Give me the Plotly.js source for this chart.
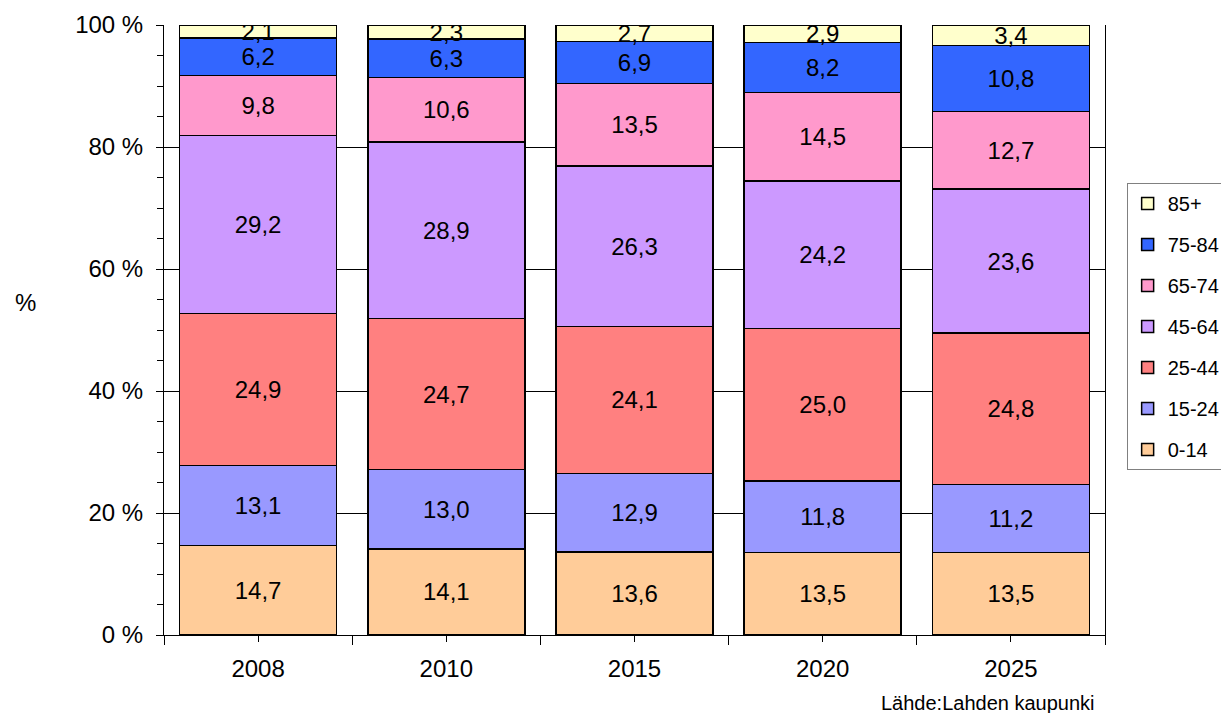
<!DOCTYPE html>
<html>
<head>
<meta charset="utf-8">
<script src="https://cdn.plot.ly/plotly-3.0.1.min.js"></script>
<style>
  body { margin: 0; background: #fff; }
  #chart { width: 1221px; height: 713px; }
</style>
</head>
<body>
<div id="chart"></div>
<script>
// years on the x axis
var years = ["2008", "2010", "2015", "2020", "2025"];

// share of population by age group (%)
var age0_14  = [14.7, 14.1, 13.6, 13.5, 13.5];
var age15_24 = [13.1, 13.0, 12.9, 11.8, 11.2];
var age25_44 = [24.9, 24.7, 24.1, 25.0, 24.8];
var age45_64 = [29.2, 28.9, 26.3, 24.2, 23.6];
var age65_74 = [9.8, 10.6, 13.5, 14.5, 12.7];
var age75_84 = [6.2, 6.3, 6.9, 8.2, 10.8];
var age85    = [2.1, 2.3, 2.7, 2.9, 3.4];

// y axis ticks
var pctTicks = [0, 20, 40, 60, 80, 100];
var pctLabels = ["0 %", "20 %", "40 %", "60 %", "80 %", "100 %"];

var groups = [
  { name: "0-14",  y: age0_14,  color: "#FFCC99" },
  { name: "15-24", y: age15_24, color: "#9999FF" },
  { name: "25-44", y: age25_44, color: "#FF8080" },
  { name: "45-64", y: age45_64, color: "#CC99FF" },
  { name: "65-74", y: age65_74, color: "#FF99CC" },
  { name: "75-84", y: age75_84, color: "#3366FF" },
  { name: "85+",   y: age85,    color: "#FFFFCC" }
];

// finnish decimal comma in the labels
function fmt(v) { return v.toFixed(1).replace(".", ","); }

var data = groups.map(function (g, i) {
  return {
    type: "bar",
    name: g.name,
    legendgroup: g.name,
    legendrank: 100 - i,   // oldest at the bottom of the legend
    x: years,
    y: g.y,
    text: g.y.map(fmt),
    textposition: "inside",
    insidetextanchor: "middle",
    constraintext: "none",
    textangle: 0,
    textfont: { family: "Liberation Sans, Arial, sans-serif", size: 24, color: "#000" },
    hoverinfo: "name+y",
    marker: { color: g.color, line: { color: "#000", width: 1.5 } }
  };
});

// invisible helper trace so the centre ticks (xaxis2) get drawn
data.push({
  type: "scatter",
  mode: "markers",
  x: years,
  y: age0_14,
  xaxis: "x2",
  yaxis: "y",
  showlegend: false,
  hoverinfo: "skip",
  marker: { opacity: 0 }
});

var layout = {
  barmode: "stack",
  barnorm: "percent",
  bargap: 0.166,
  width: 1221,
  height: 713,
  margin: { l: 164, r: 116, t: 25, b: 78, autoexpand: false },
  paper_bgcolor: "#fff",
  plot_bgcolor: "#fff",
  font: { family: "Liberation Sans, Arial, sans-serif", size: 24, color: "#000" },
  xaxis: {
    type: "category",
    showline: true,
    linecolor: "#000",
    linewidth: 1,
    ticks: "outside",
    tickson: "boundaries",
    ticklen: 9,
    tickcolor: "#000",
    ticklabelstandoff: 12,
    showgrid: false,
    zeroline: false,
    tickfont: { size: 24 }
  },
  xaxis2: {
    type: "category",
    overlaying: "x",
    matches: "x",
    anchor: "y",
    side: "bottom",
    ticks: "outside",
    ticklen: 6,
    tickcolor: "#000",
    showticklabels: false,
    showgrid: false,
    showline: false,
    zeroline: false
  },
  yaxis: {
    range: [0, 100],
    tickmode: "array",
    tickvals: pctTicks,
    ticktext: pctLabels,
    ticks: "outside",
    ticklen: 7,
    tickcolor: "#000",
    ticklabelstandoff: 8,
    showline: true,
    linecolor: "#000",
    mirror: true,
    showgrid: true,
    gridcolor: "#000",
    gridwidth: 1,
    zeroline: false,
    minor: { dtick: 5, ticks: "outside", ticklen: 6, tickcolor: "#000", showgrid: false },
    tickfont: { size: 24 }
  },
  legend: {
    x: 1.023,
    y: 0.741,
    xanchor: "left",
    yanchor: "top",
    traceorder: "grouped",
    tracegroupgap: 12,
    bordercolor: "#808080",
    borderwidth: 1,
    bgcolor: "#fff",
    font: { size: 20 }
  },
  annotations: [
    { text: "%", xref: "paper", yref: "paper", x: -0.16, y: 0.545,
      showarrow: false, font: { size: 24 } },
    { text: "Lähde:Lahden kaupunki", xref: "paper", yref: "paper",
      x: 0.992, y: -0.112, xanchor: "right", yanchor: "middle",
      showarrow: false, font: { size: 20 } }
  ]
};

Plotly.newPlot("chart", data, layout, { displayModeBar: false });
</script>
</body>
</html>
